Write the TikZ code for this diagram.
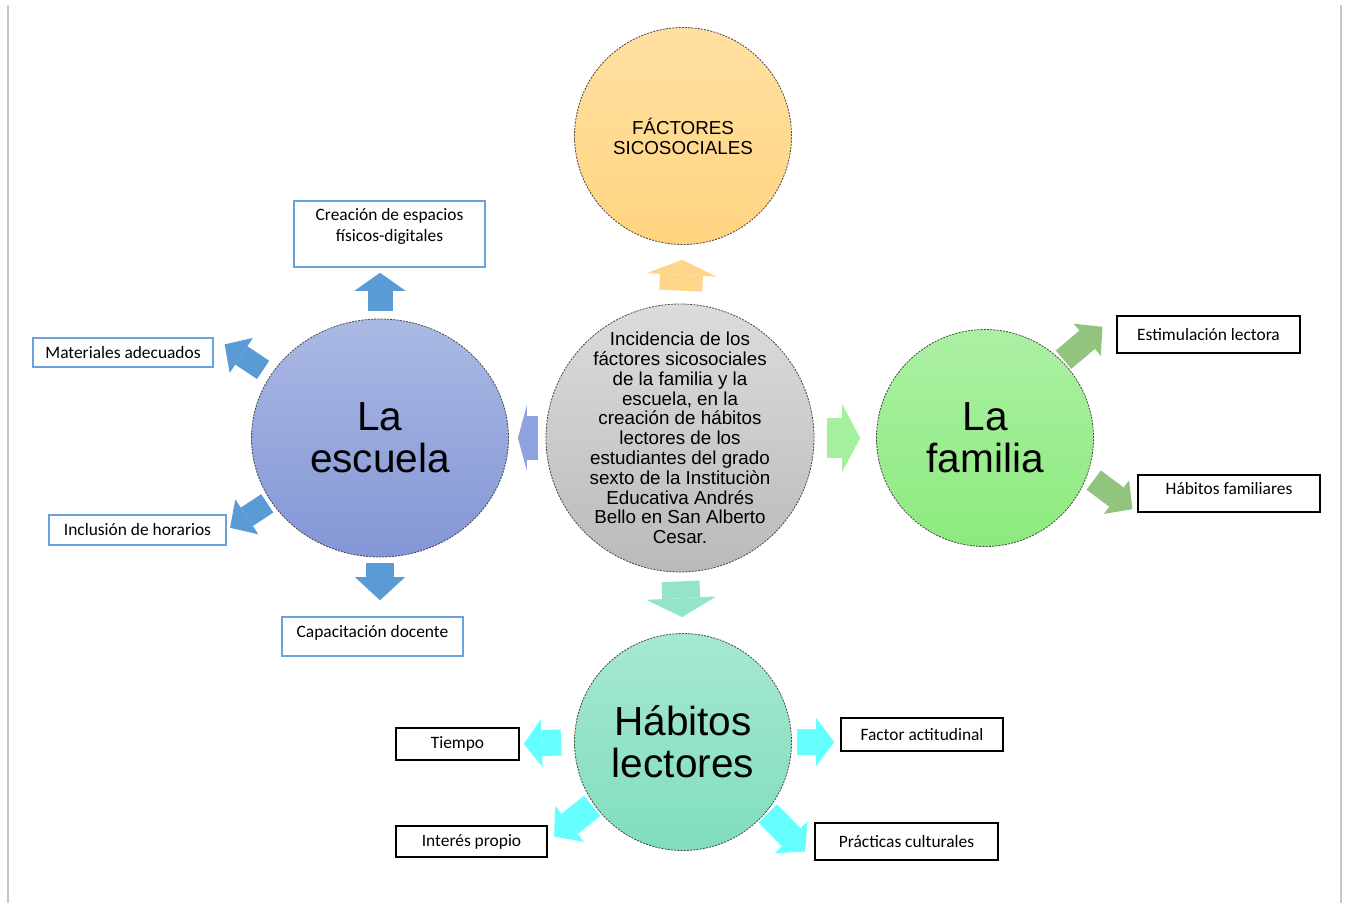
\documentclass[tikz,border=0pt]{standalone}
\usepackage{fontspec}
\setmainfont{Liberation Sans}
\newfontfamily\boxfont{Carlito}
\usetikzlibrary{shapes.geometric,arrows.meta}
\definecolor{graytop}{RGB}{220,220,220}
\definecolor{graybot}{RGB}{186,186,186}
\definecolor{orangetop}{RGB}{255,224,162}
\definecolor{orangebot}{RGB}{255,212,128}
\definecolor{esctop}{RGB}{171,185,228}
\definecolor{escbot}{RGB}{131,150,214}
\definecolor{famtop}{RGB}{172,240,164}
\definecolor{fambot}{RGB}{141,234,126}
\definecolor{habtop}{RGB}{166,232,210}
\definecolor{habbot}{RGB}{128,221,189}
\definecolor{orangearr}{RGB}{255,213,138}
\definecolor{periarr}{RGB}{143,164,222}
\definecolor{greenarr}{RGB}{165,240,158}
\definecolor{mintarr}{RGB}{148,229,200}
\definecolor{bluearr}{RGB}{91,155,213}
\definecolor{olivearr}{RGB}{147,196,125}
\definecolor{cyanarr}{RGB}{102,255,255}
\definecolor{boxblue}{RGB}{104,163,219}
\definecolor{sidegray}{RGB}{200,200,200}
\tikzset{
  bubble/.style={circle, draw=gray!55!black, line width=0.4pt, dash pattern=on 1pt off 0.6pt, align=center, inner sep=0pt},
  bigfont/.style={font=\fontsize{20.3}{21}\selectfont},
  bluebox/.style={draw=boxblue, line width=0.8pt, inner sep=0pt, align=center, font=\boxfont\fontsize{8.7}{10.6}\selectfont},
  blackbox/.style={draw=black, line width=0.8pt, inner sep=0pt, align=center, font=\boxfont\fontsize{8.7}{10.6}\selectfont},
  blk/.style n args={3}{line width=#1, -{Triangle[width=#2,length=#3,line width=0pt]}},
  sideline/.style={draw=sidegray, line width=1pt}
}
\begin{document}
\begin{tikzpicture}[x=0.5pt,y=-0.5pt]
\useasboundingbox (0,0) rectangle (1347,903);
\draw [sideline] (8,5) -- (8,903);
\draw [sideline] (1341,5) -- (1341,903);

\node [bubble, minimum size=134pt, inner sep=-16pt, top color=graytop, bottom color=graybot, font=\fontsize{9.4}{9.9}\selectfont] (cen) at (680,438) {Incidencia de los\\fáctores sicosociales\\de la familia y la\\escuela, en la\\creación de hábitos\\lectores de los\\estudiantes del grado\\sexto de la Instituciòn\\Educativa Andrés\\Bello en San Alberto\\Cesar.};
\node [bubble, minimum size=108.5pt, top color=orangetop, bottom color=orangebot, font=\fontsize{9.4}{10}\selectfont] (fac) at (683,136) {FÁCTORES\\SICOSOCIALES};
\node [bubble, ellipse, bigfont, minimum width=128.5pt, minimum height=119pt, top color=esctop, bottom color=escbot] (esc) at (380,438) {La\\escuela};
\node [bubble, bigfont, minimum size=108.5pt, top color=famtop, bottom color=fambot] (fam) at (985,438) {La\\familia};
\node [bubble, bigfont, minimum size=108.5pt, top color=habtop, bottom color=habbot] (hab) at (683,742) {Hábitos\\lectores};

\node [bluebox, minimum width=95.5pt, minimum height=33pt, text depth=9pt] (crea) at (389.5,234) {Creación de espacios\\físicos-digitales};
\node [bluebox, minimum width=90pt, minimum height=14.5pt] (mat) at (123,352.5) {Materiales adecuados};
\node [bluebox, minimum width=88.5pt, minimum height=15pt] (inc) at (137.5,530) {Inclusión de horarios};
\node [bluebox, minimum width=90.5pt, minimum height=19.5pt, text depth=5.5pt] (capa) at (372.5,636.5) {Capacitación docente};
\node [blackbox, minimum width=91.5pt, minimum height=18.5pt] (est) at (1208.5,334.5) {Estimulación lectora};
\node [blackbox, minimum width=91pt, minimum height=18.5pt, text depth=5pt] (hfam) at (1229,493.5) {Hábitos familiares};
\node [blackbox, minimum width=81pt, minimum height=16.5pt] (fact) at (922,734.5) {Factor actitudinal};
\node [blackbox, minimum width=91.5pt, minimum height=18.5pt] (prac) at (906.5,841.5) {Prácticas culturales};
\node [blackbox, minimum width=61.5pt, minimum height=16pt] (tiem) at (457.5,744) {Tiempo};
\node [blackbox, minimum width=75.5pt, minimum height=15.5pt] (int) at (471.5,841.5) {Interés propio};

\draw [blk={21.5pt}{35pt}{7.5pt}, color=orangearr, shorten <=6.5pt, shorten >=7.5pt] (cen.north) -- (fac.south);
\draw [blk={22pt}{33pt}{4.5pt}, color=periarr, shorten <=4pt, shorten >=4.5pt] (cen.west) -- (esc.east);
\draw [blk={20pt}{34pt}{9pt}, color=greenarr, shorten <=6.5pt, shorten >=8pt] (cen.east) -- (fam.west);
\draw [blk={19pt}{35pt}{9.5pt}, color=mintarr, shorten <=4.5pt, shorten >=8pt] (cen.south) -- (hab.north);

\draw [blk={12.5pt}{25.5pt}{9pt}, color=bluearr, shorten <=4pt, shorten >=2.5pt] (esc.north) -- (esc.north |- crea.south);
\draw [blk={14pt}{25pt}{11.5pt}, color=bluearr, shorten <=3pt, shorten >=8pt] (esc.south) -- (esc.south |- capa.north);
\draw [blk={11pt}{21pt}{10pt}, color=bluearr, shorten <=4.5pt, shorten >=6.5pt] (esc.150) -- (mat.north east);
\draw [blk={11pt}{21pt}{10pt}, color=bluearr, shorten <=2pt, shorten >=2pt] (esc.210) -- (inc.east);

\draw [blk={12pt}{21pt}{10pt}, color=olivearr, shorten <=1pt, shorten >=9pt] (fam.45) -- (est.north west);
\draw [blk={12pt}{21pt}{10pt}, color=olivearr, shorten <=4pt, shorten >=3pt] (fam.-20) -- (hfam.south west);

\draw [blk={13pt}{24pt}{9pt}, color=cyanarr, shorten <=6.5pt, shorten >=2pt] (hab.west) -- (tiem.east);
\draw [blk={13pt}{24pt}{9pt}, color=cyanarr, shorten <=2.5pt, shorten >=3pt] (hab.east) -- (hab.east -| fact.west);
\draw [blk={13pt}{23pt}{10pt}, color=cyanarr, shorten <=1pt, shorten >=4pt] (hab.215) -- (int.east);
\draw [blk={13pt}{23pt}{10pt}, color=cyanarr, shorten <=1pt, shorten >=6.5pt] (hab.-40) -- (prac.south west);
\end{tikzpicture}
\end{document}
